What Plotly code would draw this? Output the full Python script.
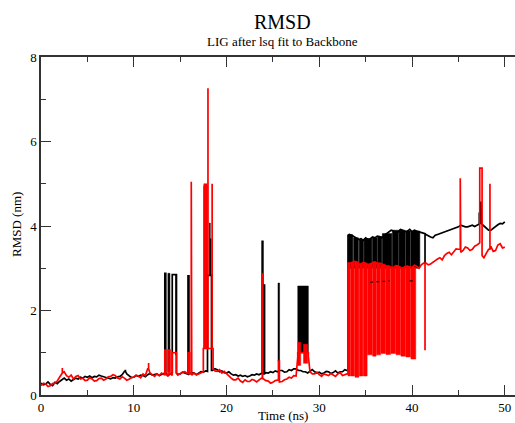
import plotly.graph_objects as go

# ---------------- data ----------------
# baseline samples every 0.25 ns, 0 .. 50 ns
STEP = 0.25

black_base = [
    0.28, 0.24, 0.26, 0.31, 0.25, 0.22, 0.30, 0.27, 0.32, 0.36,
    0.40, 0.35, 0.38, 0.33, 0.36, 0.40, 0.38, 0.42, 0.40, 0.44,
    0.42, 0.45, 0.41, 0.44, 0.43, 0.47, 0.45, 0.43, 0.42, 0.39,
    0.38, 0.41, 0.40, 0.43, 0.44, 0.48, 0.56, 0.50, 0.45, 0.41,
    0.42, 0.46, 0.44, 0.47, 0.46, 0.43, 0.48, 0.51, 0.47, 0.49,
    0.50, 0.46, 0.49, 0.52, 0.50, 0.47, 0.50, 0.53, 0.52, 0.49,
    0.50, 0.54, 0.52, 0.49, 0.50, 0.53, 0.52, 0.48, 0.51, 0.55,
    0.54, 0.57, 0.56, 0.60, 0.58, 0.62, 0.60, 0.55, 0.57, 0.53,
    0.52, 0.55, 0.50, 0.47, 0.48, 0.45, 0.47, 0.44, 0.46, 0.43,
    0.45, 0.48, 0.47, 0.50, 0.48, 0.51, 0.50, 0.53, 0.52, 0.55,
    0.53, 0.57, 0.55, 0.58, 0.58, 0.54, 0.55, 0.60, 0.58, 0.62,
    0.62, 0.58, 0.58, 0.55, 0.55, 0.52, 0.56, 0.60, 0.55, 0.52,
    0.54, 0.50, 0.52, 0.56, 0.55, 0.51, 0.53, 0.57, 0.52, 0.55,
    0.55, 0.60, 0.58, 3.80, 3.78, 3.74, 3.72, 3.68, 3.70, 3.66,
    3.72, 3.68, 3.70, 3.74, 3.72, 3.76, 3.75, 3.72, 3.78, 3.82,
    3.85, 3.90, 3.88, 3.84, 3.86, 3.92, 3.90, 3.86, 3.88, 3.92,
    3.86, 3.90, 3.88, 3.86, 3.84, 3.82, 3.80, 3.76, 3.74, 3.72,
    3.78, 3.80, 3.82, 3.84, 3.86, 3.88, 3.90, 3.92, 3.94, 3.96,
    3.98, 4.02, 4.00, 3.98, 3.98, 4.01, 4.02, 3.99, 4.02, 4.05,
    4.05, 4.00, 3.95, 3.90, 3.90, 3.95, 4.00, 4.03, 4.06, 4.05,
    4.10,
]

red_base = [
    0.22, 0.28, 0.26, 0.20, 0.22, 0.27, 0.28, 0.33, 0.42, 0.52,
    0.55, 0.46, 0.42, 0.47, 0.38, 0.44, 0.46, 0.38, 0.40, 0.34,
    0.35, 0.41, 0.38, 0.33, 0.34, 0.39, 0.40, 0.35, 0.38, 0.43,
    0.44, 0.48, 0.46, 0.40, 0.38, 0.43, 0.40, 0.35, 0.37, 0.42,
    0.42, 0.47, 0.45, 0.41, 0.50, 0.46, 0.62, 0.52, 0.48, 0.44,
    0.50, 0.46, 0.52, 0.47, 0.48, 0.44, 0.50, 0.46, 0.52, 0.47,
    0.50, 0.54, 0.55, 0.50, 0.50, 0.47, 0.52, 0.48, 0.50, 0.53,
    0.55, 0.58, 0.60, 0.63, 0.62, 0.57, 0.56, 0.60, 0.52, 0.56,
    0.50, 0.45, 0.40, 0.36, 0.36, 0.40, 0.33, 0.30, 0.36, 0.32,
    0.32, 0.37, 0.35, 0.31, 0.36, 0.40, 0.38, 0.34, 0.33, 0.28,
    0.30, 0.34, 0.35, 0.31, 0.32, 0.36, 0.38, 0.42, 0.40, 0.46,
    0.45, 0.90, 0.95, 1.05, 1.00, 0.92, 0.55, 0.50, 0.50, 0.54,
    0.48, 0.44, 0.50, 0.47, 0.46, 0.51, 0.48, 0.44, 0.50, 0.53,
    0.46, 0.49, 0.50, 3.12, 3.12, 3.16, 3.15, 3.10, 3.10, 3.14,
    3.12, 3.08, 3.10, 3.13, 3.15, 3.11, 3.12, 3.10, 3.08, 3.05,
    3.05, 3.02, 3.02, 3.06, 3.05, 3.01, 3.00, 3.04, 3.05, 3.02,
    3.02, 3.07, 3.05, 3.00, 3.08, 3.12, 3.12, 3.08, 3.10, 3.15,
    3.18, 3.22, 3.25, 3.20, 3.30, 3.35, 3.38, 3.32, 3.40, 3.46,
    3.45, 3.38, 3.42, 3.50, 3.48, 3.42, 3.45, 3.52, 3.55, 3.60,
    3.30, 3.25, 3.35, 3.45, 3.52, 3.40, 3.42, 3.55, 3.58, 3.48,
    3.50,
]

# extra step points (time, order, value)
black_extra = [(33.1, 0, 0.60), (33.1, 1, 3.78)]
red_extra = [(33.1, 0, 0.50), (33.1, 1, 3.12)]

# plateaus (start, end, level)
black_pulses = [(13.35, 13.45, 2.88), (14.15, 14.60, 2.85), (15.85, 15.95, 2.82),
                (17.95, 18.38, 2.83), (24.00, 24.10, 2.60), (47.25, 47.42, 4.30)]
red_pulses = [(13.35, 13.45, 1.06), (13.70, 13.90, 1.06), (14.15, 14.60, 1.00),
              (15.85, 16.00, 1.00), (17.50, 18.55, 1.10), (25.60, 25.70, 0.80),
              (27.68, 28.82, 1.00), (47.30, 47.55, 5.37)]

# single-sample spikes (time, value)
black_spikes = [(9.1, 0.60), (47.42, 4.58), (41.4, 3.10)]
red_spikes = [(2.3, 0.64), (11.6, 0.76), (16.2, 5.05), (18.0, 7.26), (18.45, 5.00),
              (41.4, 1.06), (45.2, 5.13), (48.4, 5.00)]

# densely flickering stretches (start, end, low, high)
black_bursts = [(13.68, 13.90, 0.55, 2.88), (14.50, 14.62, 0.95, 2.85),
                (17.55, 17.92, 1.10, 4.95), (18.15, 18.25, 2.83, 4.07),
                (18.25, 18.35, 2.83, 3.70), (23.78, 23.98, 0.50, 3.65),
                (25.55, 25.72, 0.80, 2.65), (27.68, 28.82, 1.00, 2.58),
                (33.12, 33.62, 3.00, 3.79), (33.70, 34.22, 3.00, 3.72),
                (34.30, 34.77, 3.00, 3.68), (34.83, 35.67, 3.00, 3.70),
                (35.73, 36.22, 3.00, 3.72), (36.28, 36.74, 3.00, 3.75),
                (36.80, 37.82, 3.00, 3.82), (37.88, 38.54, 3.00, 3.90),
                (38.60, 39.27, 3.00, 3.90), (39.33, 39.82, 3.00, 3.88),
                (39.88, 40.84, 3.00, 3.88)]
red_bursts = [(17.55, 17.90, 1.10, 5.00), (23.80, 23.95, 0.40, 2.88),
              (27.70, 28.00, 0.70, 1.25), (28.30, 28.75, 0.75, 1.20),
              (33.10, 33.37, 0.45, 3.12), (33.42, 33.80, 0.45, 3.15),
              (33.85, 34.27, 0.42, 3.15), (34.32, 34.70, 0.45, 3.10),
              (34.75, 35.16, 0.45, 3.12), (35.21, 35.70, 0.95, 3.10),
              (35.75, 36.13, 0.92, 3.15), (36.18, 36.60, 0.95, 3.12),
              (36.65, 37.14, 0.98, 3.08), (37.19, 37.68, 0.96, 3.05),
              (37.73, 38.22, 0.98, 3.02), (38.27, 38.75, 0.95, 3.05),
              (38.80, 39.29, 0.92, 3.02), (39.34, 39.83, 0.90, 3.05),
              (39.88, 40.40, 0.85, 3.03)]

# black intermediate level visible through the red band
black_mid = [([35.5, 37.6], [2.67, 2.70]), ([39.75, 40.1], [2.70, 2.70])]


# ---------------- assemble series ----------------
def near(base_v, t):
    return base_v[min(len(base_v) - 1, int(round(t / STEP)))]


def build(base_v, extra, pulses, spikes):
    base_t = [i * STEP for i in range(len(base_v))]
    pts = [(t, 0, v) for t, v in zip(base_t, base_v)
           if not any(a <= t <= b for a, b, _ in pulses)]
    pts += extra
    for a, b, lev in pulses:
        pts += [(a, 0, near(base_v, a)), (a, 1, lev), (b, 0, lev), (b, 1, near(base_v, b))]
    pts.sort(key=lambda p: (p[0], p[1]))
    pts = [(p[0], p[2]) for p in pts]
    for ts, peak in spikes:
        idx = 0
        while idx < len(pts) and pts[idx][0] <= ts:
            idx += 1
        prev = pts[idx - 1][1]
        pts[idx:idx] = [(ts, prev), (ts, peak), (ts, prev)]
    return [p[0] for p in pts], [p[1] for p in pts]


def band_xy(bursts):
    xs, ys = [], []
    for a, b, lo, hi in bursts:
        xs += [a, b, b, a, a, None]
        ys += [lo, lo, hi, hi, lo, None]
    return xs, ys


bx, by = build(black_base, black_extra, black_pulses, black_spikes)
rx, ry = build(red_base, red_extra, red_pulses, red_spikes)
bbx, bby = band_xy(black_bursts)
rbx, rby = band_xy(red_bursts)

BLACK = "#000000"
RED = "#ff0000"

fig = go.Figure()
fig.add_trace(go.Scatter(x=bx, y=by, mode="lines", line=dict(color=BLACK, width=1.7),
                         hoverinfo="skip"))
fig.add_trace(go.Scatter(x=bbx, y=bby, mode="lines", fill="toself", fillcolor=BLACK,
                         line=dict(color=BLACK, width=0.5), hoverinfo="skip"))
fig.add_trace(go.Scatter(x=rx, y=ry, mode="lines", line=dict(color=RED, width=1.7),
                         hoverinfo="skip"))
fig.add_trace(go.Scatter(x=rbx, y=rby, mode="lines", fill="toself", fillcolor=RED,
                         line=dict(color=RED, width=0.5), hoverinfo="skip"))
for mx, my in black_mid:
    fig.add_trace(go.Scatter(x=mx, y=my, mode="lines",
                             line=dict(color=BLACK, width=1, dash="dot"), hoverinfo="skip"))

AX = "#333333"
FONT = "Liberation Serif, Times New Roman, serif"

fig.update_layout(
    width=515, height=423,
    margin=dict(l=41, r=0, t=57, b=28),
    plot_bgcolor="white", paper_bgcolor="white",
    showlegend=False,
    font=dict(family=FONT, size=13, color="black"),
    xaxis=dict(range=[0, 51.1], tick0=0, dtick=10, ticks="inside", ticklen=10,
               tickwidth=1.3, tickcolor=AX, showline=True, linecolor=AX, linewidth=1.5,
               mirror="ticks", showgrid=False, zeroline=False, automargin=False,
               tickfont=dict(family=FONT, size=13, color="black"),
               minor=dict(dtick=5, ticks="inside", ticklen=5, tickwidth=1.3,
                          tickcolor=AX, showgrid=False)),
    yaxis=dict(range=[0, 8], tick0=0, dtick=2, ticks="inside", ticklen=10,
               tickwidth=1.3, tickcolor=AX, showline=True, linecolor=AX, linewidth=1.5,
               mirror=False, showgrid=False, zeroline=False, automargin=False,
               tickfont=dict(family=FONT, size=13, color="black"),
               minor=dict(dtick=1, ticks="inside", ticklen=5, tickwidth=1.3,
                          tickcolor=AX, showgrid=False)),
    annotations=[
        dict(text="RMSD", xref="paper", yref="paper", x=0.5105, y=1.1036,
             showarrow=False, font=dict(family=FONT, size=20, color="black"),
             xanchor="center", yanchor="middle"),
        dict(text="LIG after lsq fit to Backbone", xref="paper", yref="paper",
             x=0.5105, y=1.0444, showarrow=False,
             font=dict(family=FONT, size=13, color="black"),
             xanchor="center", yanchor="middle"),
        dict(text="Time (ns)", xref="paper", yref="paper", x=0.5105, y=-0.062,
             showarrow=False, font=dict(family=FONT, size=13, color="black"),
             xanchor="center", yanchor="middle"),
        dict(text="RMSD (nm)", xref="paper", yref="paper", x=-0.0506, y=0.503,
             showarrow=False, textangle=-90,
             font=dict(family=FONT, size=13, color="black"),
             xanchor="center", yanchor="middle"),
    ],
)

fig.write_html("out.html", config={"displayModeBar": False},
               post_script="document.body.style.margin='0px';document.body.style.overflow='hidden';")
